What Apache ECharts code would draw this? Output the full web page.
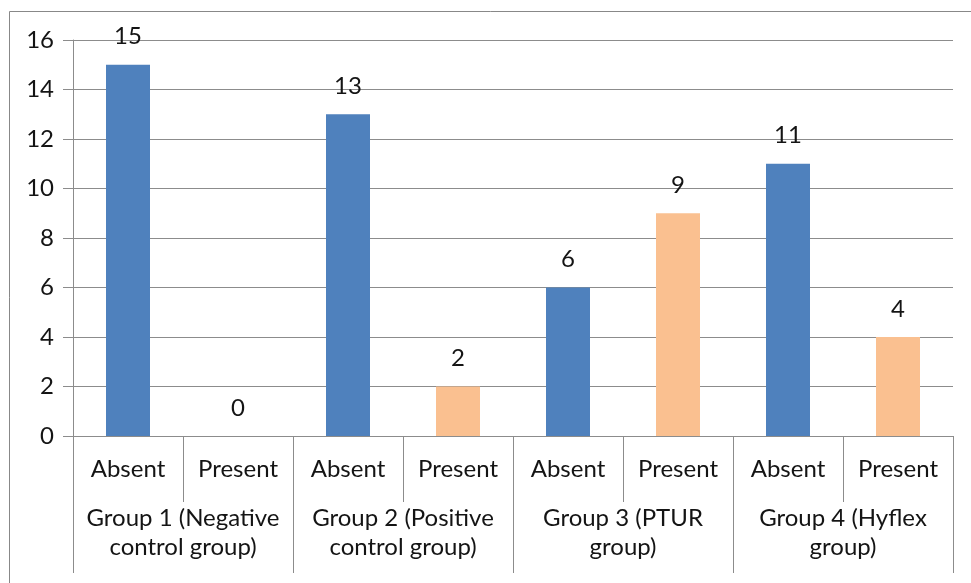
<!DOCTYPE html>
<html>
<head>
<meta charset="utf-8">
<script src="https://cdn.jsdelivr.net/npm/echarts@6/dist/echarts.min.js"></script>
<style>html,body{margin:0;padding:0;background:#fff}#c{width:971px;height:583px}</style>
</head>
<body>
<div id="c"></div>
<script>
const subCategories = ['Absent','Present','Absent','Present','Absent','Present','Absent','Present'];
const groupCategories = ['Group 1 (Negative\ncontrol group)','Group 2 (Positive\ncontrol group)','Group 3 (PTUR\ngroup)','Group 4 (Hyflex\ngroup)'];
const values = [15, 0, 13, 2, 6, 9, 11, 4];
const yTicks = { min: 0, max: 16, interval: 2 };

const colorAbsent = '#4F81BD';
const colorPresent = '#FAC090';
const font = 'Lato, "Open Sans", sans-serif';
const textColor = '#141414';
const lineColor = '#8c8c8c';
const fs = 24;

const chart = echarts.init(document.getElementById('c'));
chart.setOption({
  animation: false,
  backgroundColor: '#fff',
  textStyle: { fontFamily: font },
  graphic: [{
    type: 'rect',
    shape: { x: 9.5, y: 11.5, width: 1000, height: 700 },
    style: { fill: 'none', stroke: '#888', lineWidth: 1 },
    silent: true, z: -1
  }],
  grid: { left: 73, right: 18, top: 40, bottom: 147 },
  xAxis: [{
    type: 'category',
    data: subCategories,
    position: 'bottom',
    axisLine: { show: true, lineStyle: { color: lineColor, width: 1 } },
    axisTick: { show: true, interval: 0, length: 66, lineStyle: { color: lineColor } },
    axisLabel: { interval: 0, margin: 21, fontSize: fs, color: textColor, fontFamily: font }
  }, {
    type: 'category',
    data: groupCategories,
    position: 'bottom',
    offset: 0,
    axisLine: { show: false },
    axisTick: { show: true, interval: 0, length: 137, lineStyle: { color: lineColor } },
    axisLabel: { interval: 0, margin: 68, fontSize: fs, lineHeight: 29, color: textColor, fontFamily: font, verticalAlign: 'top' }
  }],
  yAxis: {
    type: 'value',
    min: yTicks.min, max: yTicks.max, interval: yTicks.interval,
    axisLine: { show: true, lineStyle: { color: lineColor } },
    axisTick: { show: true, length: 10, lineStyle: { color: lineColor } },
    splitLine: { show: true, lineStyle: { color: lineColor, width: 1 } },
    axisLabel: { margin: 19, fontSize: fs, color: textColor, fontFamily: font }
  },
  series: [{
    type: 'bar',
    xAxisIndex: 0,
    barWidth: '40%',
    data: values.map((v, i) => ({ value: v, itemStyle: { color: subCategories[i] === 'Absent' ? colorAbsent : colorPresent } })),
    label: { show: true, position: 'top', distance: 16, fontSize: fs, color: textColor, fontFamily: font }
  }]
});
</script>
</body>
</html>
